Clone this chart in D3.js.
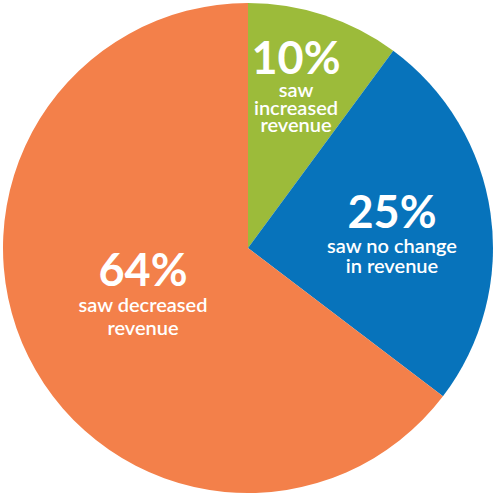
<!DOCTYPE html>
<html>
<head>
<meta charset="utf-8">
<script src="https://cdn.jsdelivr.net/npm/d3@7"></script>
<style>
  body { margin: 0; background: #fff; }
  svg { display: block; }
  text { font-family: Lato, sans-serif; font-weight: 600; fill: #fff; text-anchor: middle; }
  text.pct { font-weight: bold; }
</style>
</head>
<body>
<svg id="chart" width="495" height="497"></svg>
<script>
// slice data
const categories = ["increased", "no change", "decreased"];
const values = [10, 25, 64];
const pctLabels = ["10%", "25%", "64%"];
const subLabels = [["saw", "increased", "revenue"], ["saw no change", "in revenue"], ["saw decreased", "revenue"]];
const colors = ["#9cbb3a", "#0773bb", "#f3804a"];

const svg = d3.select("#chart");
const cx = 248, cy = 248, radius = 245;
const g = svg.append("g").attr("transform", "translate(" + cx + "," + cy + ")");

const pie = d3.pie().sort(null).value(d => d);
const arc = d3.arc().innerRadius(0).outerRadius(radius);
const arcs = pie(values);

g.selectAll("path")
  .data(arcs)
  .enter().append("path")
  .attr("d", arc)
  .attr("fill", (d, i) => colors[i]);

// label anchor (baseline of the big number) and offsets of the small lines
const labelPos = [
  { x: 48, y: -174, big: 45, small: 20, first: 23, gap: 17.5 },
  { x: 144, y: -20, big: 45, small: 20, first: 25, gap: 20 },
  { x: -105, y: 38, big: 45, small: 20, first: 26, gap: 23 }
];

arcs.forEach((a, i) => {
  const p = labelPos[i];
  const t = g.append("g").attr("transform", "translate(" + p.x + "," + p.y + ")");
  t.append("text").attr("class", "pct").attr("y", 0).style("font-size", p.big + "px").text(pctLabels[i]);
  subLabels[i].forEach((line, j) => {
    t.append("text")
      .attr("y", p.first + j * p.gap)
      .style("font-size", p.small + "px")
      .text(line);
  });
});
</script>
</body>
</html>
